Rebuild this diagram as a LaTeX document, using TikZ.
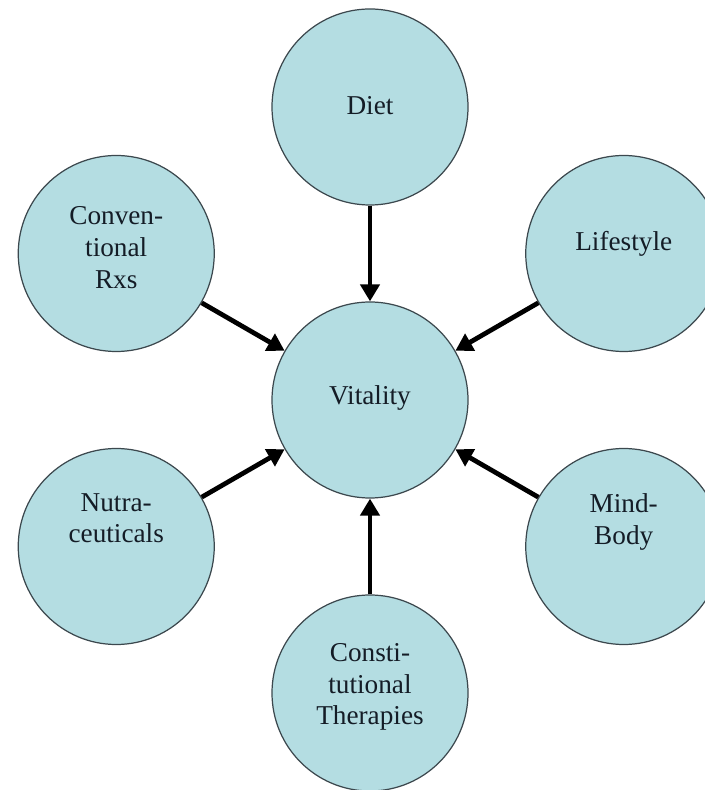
\documentclass[tikz,border=0pt]{standalone}
\usepackage{fontspec}
\setmainfont{Liberation Serif}
\usetikzlibrary{arrows.meta}
\definecolor{factorfill}{RGB}{180,221,226}
\definecolor{factorline}{RGB}{60,72,78}
\definecolor{factortext}{RGB}{20,28,38}

\begin{document}
\begin{tikzpicture}
\tikzstyle{every node}=[font=\fontsize{15.5}{18}\selectfont, text=factortext]
\tikzstyle{factor}=[circle, draw=factorline, line width=0.7pt, fill=factorfill, minimum size=3.92cm, inner sep=0pt]
\tikzstyle{caption}=[align=center]
\tikzstyle{influence}=[line width=2.7pt, -{Triangle[length=0.34cm,width=0.38cm]}]
\useasboundingbox (-7.4,-7.8) rectangle (6.7,8.0);

\node[factor] (vitality) at (0,0) {};
\node[caption] (vitality-txt) at ([yshift=1pt]vitality) {Vitality};

\foreach \name/\ang/\shift/\txt in {
    diet/90/1pt/Diet,
    conventional/150/3.4pt/{Conven-\\tional\\Rxs},
    lifestyle/30/5.7pt/Lifestyle,
    nutra/210/16pt/{Nutra-\\ceuticals},
    mindbody/330/14pt/{Mind-\\Body},
    constitutional/270/3.4pt/{Consti-\\tutional\\Therapies}}
{
    \node[factor] (\name) at (\ang:5.86) {};
    \node[caption] (\name-txt) at ([yshift=\shift]\name) {\txt};
    \draw[influence] (\name) -- (vitality);
}
\end{tikzpicture}
\end{document}
